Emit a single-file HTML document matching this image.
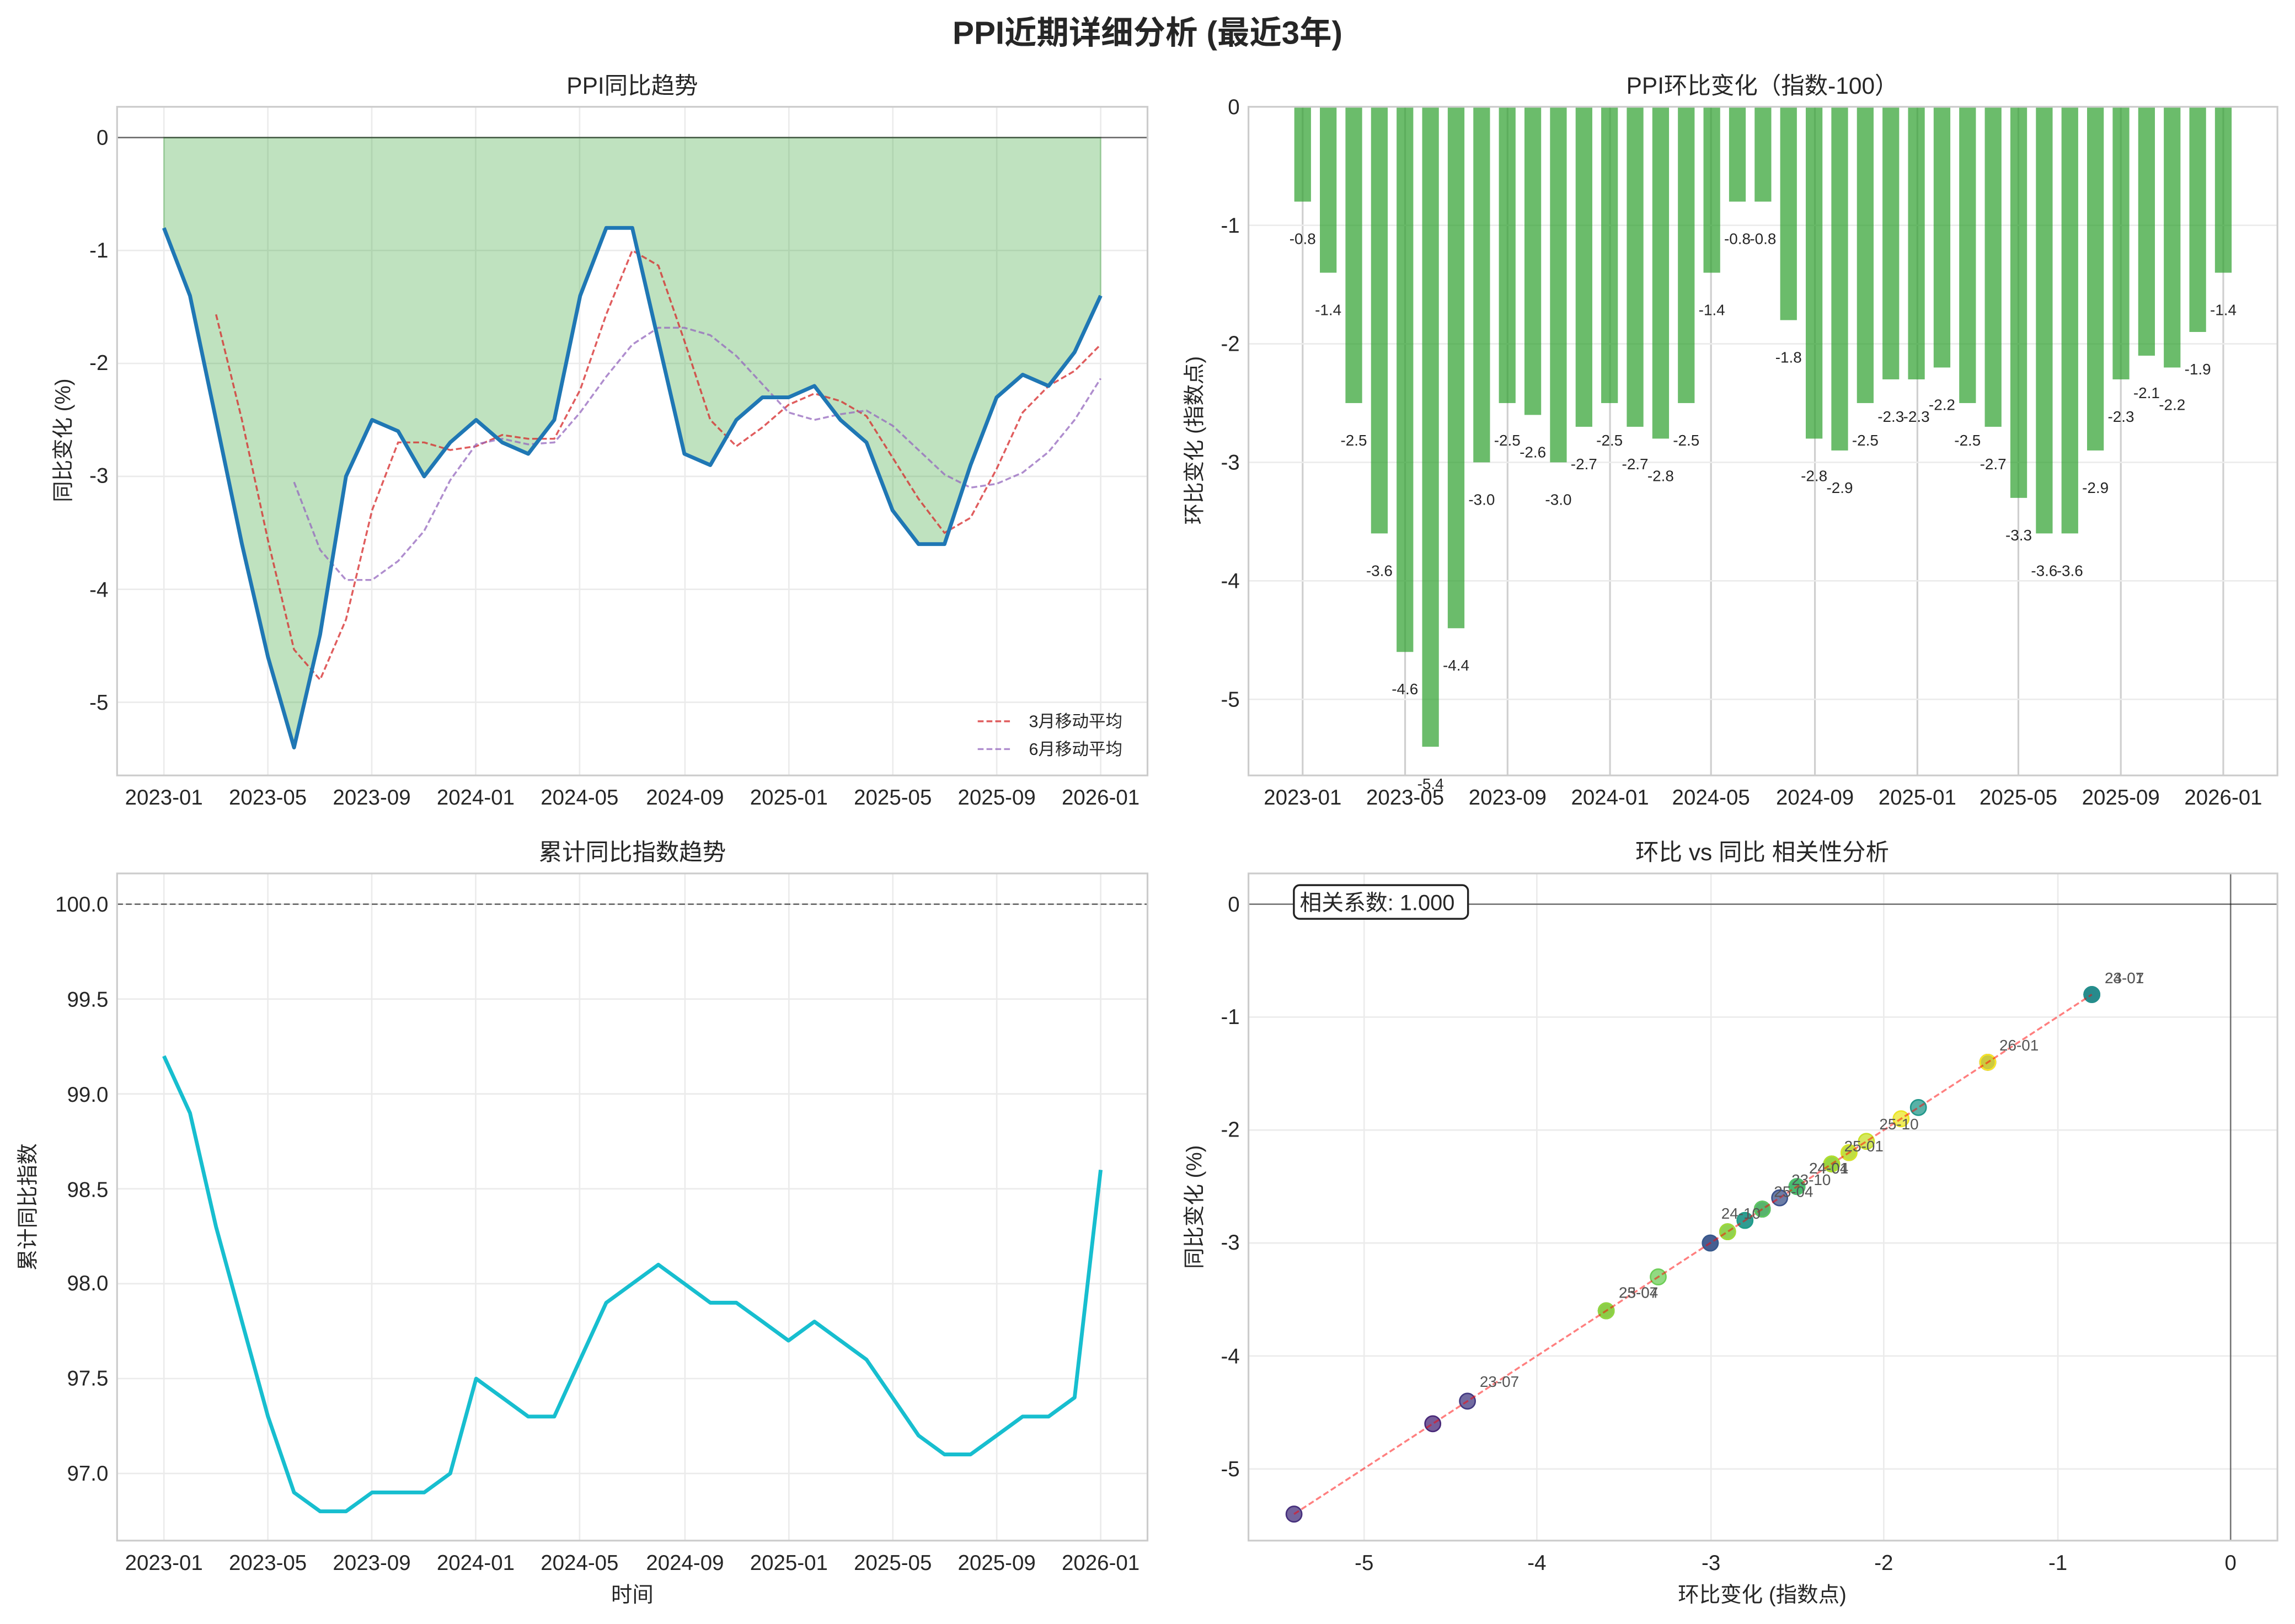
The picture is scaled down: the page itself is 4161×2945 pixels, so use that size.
<!DOCTYPE html>
<html><head><meta charset="utf-8"><style>
html,body{margin:0;padding:0;background:#fff;}
svg{display:block;}
text{font-family:"Liberation Sans","Noto Sans CJK SC",sans-serif;fill:#262626;}
</style></head><body>
<svg id="s" xmlns="http://www.w3.org/2000/svg" width="4161" height="2945" viewBox="0 0 1568 1110" preserveAspectRatio="none">
<rect width="1568" height="1110" fill="#fff"/>
<g id="grid"></g>
<g id="data"></g>
<g fill="none" stroke="#cccccc" stroke-width="1.2">
<rect x="80" y="73" width="704" height="457"/>
<rect x="853" y="73" width="703" height="457"/>
<rect x="80" y="597" width="704" height="456"/>
<rect x="853" y="597" width="703" height="456"/>
</g>
<text x="784" y="30" text-anchor="middle" font-size="22" font-weight="bold">PPI近期详细分析 (最近3年)</text>
<text x="432" y="64" text-anchor="middle" font-size="16">PPI同比趋势</text>
<text x="1204" y="64" text-anchor="middle" font-size="16">PPI环比变化（指数-100）</text>
<text x="432" y="588" text-anchor="middle" font-size="16">累计同比指数趋势</text>
<text x="1204" y="588" text-anchor="middle" font-size="16">环比 vs 同比 相关性分析</text>
<g font-size="14.5" text-anchor="end">
<text x="74" y="99">0</text><text x="74" y="176">-1</text><text x="74" y="253">-2</text><text x="74" y="330">-3</text><text x="74" y="408">-4</text><text x="74" y="485">-5</text>
<text x="847" y="78">0</text><text x="847" y="159">-1</text><text x="847" y="240">-2</text><text x="847" y="321">-3</text><text x="847" y="402">-4</text><text x="847" y="483">-5</text>
<text x="74" y="623">100.0</text><text x="74" y="688">99.5</text><text x="74" y="753">99.0</text><text x="74" y="818">98.5</text><text x="74" y="882">98.0</text><text x="74" y="947">97.5</text><text x="74" y="1012">97.0</text>
<text x="847" y="623">0</text><text x="847" y="700">-1</text><text x="847" y="777">-2</text><text x="847" y="854">-3</text><text x="847" y="932">-4</text><text x="847" y="1009">-5</text>
</g>
<g font-size="14.5" text-anchor="middle">
<text x="112" y="550">2023-01</text><text x="183" y="550">2023-05</text><text x="254" y="550">2023-09</text><text x="325" y="550">2024-01</text><text x="396" y="550">2024-05</text><text x="468" y="550">2024-09</text><text x="539" y="550">2025-01</text><text x="610" y="550">2025-05</text><text x="681" y="550">2025-09</text><text x="752" y="550">2026-01</text>
<text x="890" y="550">2023-01</text><text x="960" y="550">2023-05</text><text x="1030" y="550">2023-09</text><text x="1100" y="550">2024-01</text><text x="1169" y="550">2024-05</text><text x="1240" y="550">2024-09</text><text x="1310" y="550">2025-01</text><text x="1379" y="550">2025-05</text><text x="1449" y="550">2025-09</text><text x="1519" y="550">2026-01</text>
<text x="112" y="1073">2023-01</text><text x="183" y="1073">2023-05</text><text x="254" y="1073">2023-09</text><text x="325" y="1073">2024-01</text><text x="396" y="1073">2024-05</text><text x="468" y="1073">2024-09</text><text x="539" y="1073">2025-01</text><text x="610" y="1073">2025-05</text><text x="681" y="1073">2025-09</text><text x="752" y="1073">2026-01</text>
<text x="932" y="1073">-5</text><text x="1050" y="1073">-4</text><text x="1169" y="1073">-3</text><text x="1287" y="1073">-2</text><text x="1406" y="1073">-1</text><text x="1524" y="1073">0</text>
<text x="432" y="1095" font-size="14.5">时间</text>
<text x="1204" y="1095" font-size="14.5">环比变化 (指数点)</text>
<text transform="translate(48,301) rotate(-90)" font-size="14.5">同比变化 (%)</text>
<text transform="translate(821,301) rotate(-90)" font-size="14.5">环比变化 (指数点)</text>
<text transform="translate(24,825) rotate(-90)" font-size="14.5">累计同比指数</text>
<text transform="translate(821,825) rotate(-90)" font-size="14.5">同比变化 (%)</text>
</g>
<g font-size="11.5">
<line x1="668" y1="493" x2="690" y2="493" stroke="#d62728" stroke-opacity="0.75" stroke-dasharray="4,2" stroke-width="1.3"/>
<text x="703" y="497">3月移动平均</text>
<line x1="668" y1="512" x2="690" y2="512" stroke="#9467bd" stroke-opacity="0.75" stroke-dasharray="4,2" stroke-width="1.3"/>
<text x="703" y="516">6月移动平均</text>
</g>
<rect x="884" y="605" width="119" height="23" rx="4" fill="#fff" stroke="#222" stroke-width="1.3"/>
<text x="888" y="622" font-size="15">相关系数: 1.000</text>
<g id="lab" font-size="10.5" text-anchor="middle"></g>
<g font-size="10.5">
<text x="1438" y="672" style="fill:#555">23-01</text>
<text x="1438" y="672" style="fill:#555">24-07</text>
<text x="1366" y="718" style="fill:#555">26-01</text>
<text x="1284" y="772" style="fill:#555">25-10</text>
<text x="1260" y="787" style="fill:#555">25-01</text>
<text x="1236" y="802" style="fill:#555">24-01</text>
<text x="1236" y="802" style="fill:#555">24-04</text>
<text x="1224" y="810" style="fill:#555">23-10</text>
<text x="1212" y="818" style="fill:#555">25-04</text>
<text x="1176" y="833" style="fill:#555">24-10</text>
<text x="1106" y="887" style="fill:#555">23-04</text>
<text x="1106" y="887" style="fill:#555">25-07</text>
<text x="1011" y="948" style="fill:#555">23-07</text>
</g>
</svg>
<script>
var yoy=[-0.8,-1.4,-2.5,-3.6,-4.6,-5.4,-4.4,-3.0,-2.5,-2.6,-3.0,-2.7,-2.5,-2.7,-2.8,-2.5,-1.4,-0.8,-0.8,-1.8,-2.8,-2.9,-2.5,-2.3,-2.3,-2.2,-2.5,-2.7,-3.3,-3.6,-3.6,-2.9,-2.3,-2.1,-2.2,-1.9,-1.4];
var cum=[99.2,98.9,98.3,97.8,97.3,96.9,96.8,96.8,96.9,96.9,96.9,97.0,97.5,97.4,97.3,97.3,97.6,97.9,98.0,98.1,98.0,97.9,97.9,97.8,97.7,97.8,97.7,97.6,97.4,97.2,97.1,97.1,97.2,97.3,97.3,97.4,98.6];
var NS="http://www.w3.org/2000/svg";
function el(p,t,a){var e=document.createElementNS(NS,t);for(var k in a)e.setAttribute(k,a[k]);p.appendChild(e);return e;}
var G=document.getElementById('grid'),D=document.getElementById('data'),L=document.getElementById('lab');
var gc="#ebebeb";
function xl(i){return 112+i*640/36;}
function xb(i){return 890+i*629/36;}
[112,183,254,325,396,468,539,610,681,752].forEach(function(x){el(G,'line',{x1:x,y1:73,x2:x,y2:530,stroke:gc});el(G,'line',{x1:x,y1:597,x2:x,y2:1053,stroke:gc});});
[890,960,1030,1100,1169,1240,1310,1379,1449,1519].forEach(function(x){el(G,'line',{x1:x,y1:73,x2:x,y2:530,stroke:"#cfcfcf",'stroke-width':1.2});});
for(var k=0;k<=5;k++){var y=94+77.2*k;el(G,'line',{x1:80,y1:y,x2:784,y2:y,stroke:gc});
 y=73+81*k;el(G,'line',{x1:853,y1:y,x2:1556,y2:y,stroke:gc});
 y=618+77.2*k;el(G,'line',{x1:853,y1:y,x2:1556,y2:y,stroke:gc});}
for(var k=0;k<7;k++){var y=618+64.85*k;el(G,'line',{x1:80,y1:y,x2:784,y2:y,stroke:gc});}
[932,1050,1169,1287,1406,1524].forEach(function(x){el(G,'line',{x1:x,y1:597,x2:x,y2:1053,stroke:gc});});
function yt(v){return 94-77.2*v;}
var pts=yoy.map(function(v,i){return xl(i).toFixed(1)+","+yt(v).toFixed(1);});
el(D,'polygon',{points:xl(0)+",94 "+pts.join(" ")+" "+xl(36)+",94",fill:"#2ca02c",'fill-opacity':0.3,stroke:"#2ca02c",'stroke-opacity':0.3});
el(D,'line',{x1:80,y1:94,x2:784,y2:94,stroke:"#000",'stroke-opacity':0.55,'stroke-width':1});
function ma(n){var r=[];for(var i=n-1;i<yoy.length;i++){var s=0;for(var j=0;j<n;j++)s+=yoy[i-j];r.push(xl(i).toFixed(1)+","+yt(s/n).toFixed(1));}return r.join(" ");}
el(D,'polyline',{points:ma(3),fill:"none",stroke:"#d62728",'stroke-opacity':0.75,'stroke-width':1.3,'stroke-dasharray':"4,2"});
el(D,'polyline',{points:ma(6),fill:"none",stroke:"#9467bd",'stroke-opacity':0.75,'stroke-width':1.3,'stroke-dasharray':"4,2"});
el(D,'polyline',{points:pts.join(" "),fill:"none",stroke:"#1f77b4",'stroke-width':2.6,'stroke-linejoin':'round'});
yoy.forEach(function(v,i){var x=xb(i),h=81*(-v);el(D,'rect',{x:x-5.7,y:73,width:11.4,height:h,fill:"#2ca02c",'fill-opacity':0.7});
 var t=el(L,'text',{x:x,y:(73+h+29).toFixed(1)});t.textContent=v.toFixed(1);});
function yc(v){return 618+(100-v)*129.7;}
el(D,'line',{x1:80,y1:618,x2:784,y2:618,stroke:"#666",'stroke-dasharray':"4,2",'stroke-width':1});
el(D,'polyline',{points:cum.map(function(v,i){return xl(i).toFixed(1)+","+yc(v).toFixed(1);}).join(" "),fill:"none",stroke:"#17becf",'stroke-width':2.6,'stroke-linejoin':'round'});
function sx(v){return 1524+118.5*v;}function sy(v){return 618-77.2*v;}
el(D,'line',{x1:853,y1:618,x2:1556,y2:618,stroke:"#000",'stroke-opacity':0.5});
el(D,'line',{x1:1524,y1:597,x2:1524,y2:1053,stroke:"#000",'stroke-opacity':0.5});
var vir=[[68,1,84],[72,40,120],[62,73,137],[49,104,142],[38,130,142],[31,158,137],[53,183,121],[110,206,88],[181,222,43],[253,231,37]];
function vc(t){var p=t*9,i=Math.min(8,Math.floor(p)),f=p-i,a=vir[i],b=vir[i+1];
 return "rgb("+[0,1,2].map(function(k){return Math.round(a[k]+(b[k]-a[k])*f);}).join(",")+")";}
yoy.forEach(function(v,i){var c=vc(i/36);el(D,'circle',{cx:sx(v),cy:sy(v),r:5.3,fill:c,'fill-opacity':0.75,stroke:c});});
el(D,'line',{x1:sx(-5.4),y1:sy(-5.4),x2:sx(-0.8),y2:sy(-0.8),stroke:"#ff0000",'stroke-opacity':0.5,'stroke-dasharray':"4,2",'stroke-width':1.3});
</script>
</body></html>
